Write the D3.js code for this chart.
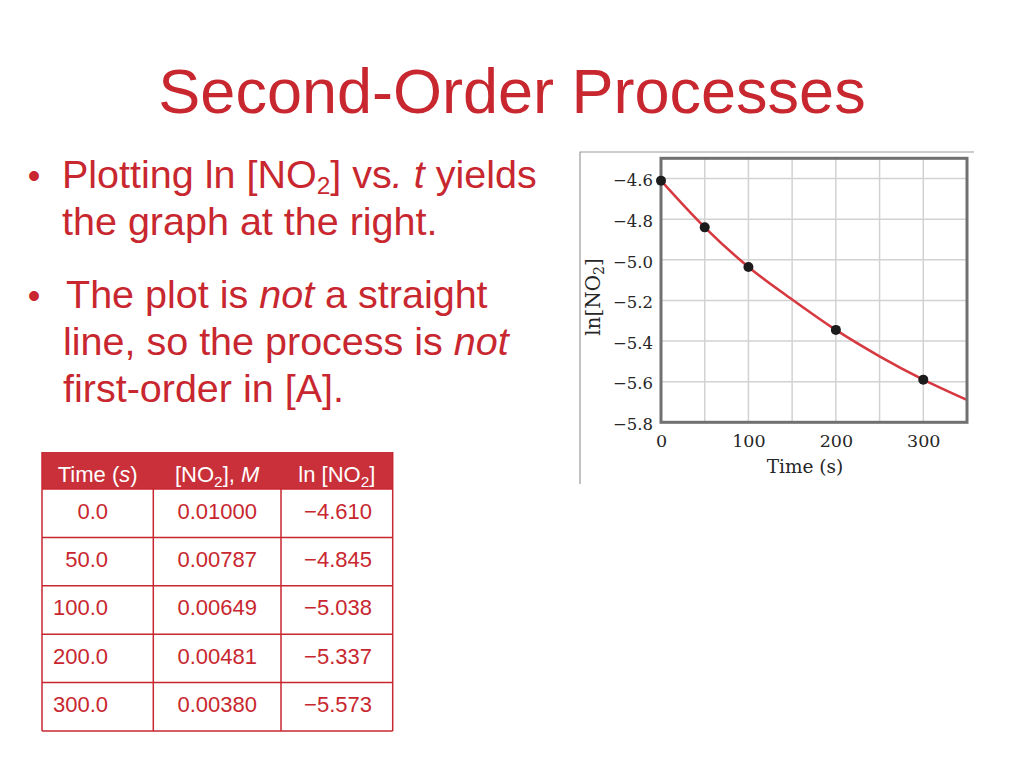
<!DOCTYPE html>
<html>
<head>
<meta charset="utf-8">
<script src="https://cdn.jsdelivr.net/npm/d3@7"></script>
<style>
  html, body { margin: 0; padding: 0; background: #ffffff; }
  svg { display: block; }
</style>
</head>
<body>
<svg id="slide" width="1024" height="768"></svg>
<script>
// ---------------- data ----------------
const tableHeaders = ["Time (s)", "[NO2], M", "ln [NO2]"];
const tableTime = ["0.0", "50.0", "100.0", "200.0", "300.0"];
const tableConc = ["0.01000", "0.00787", "0.00649", "0.00481", "0.00380"];
const tableLn = ["\u22124.610", "\u22124.845", "\u22125.038", "\u22125.337", "\u22125.573"];

// plotted points
const dotTime = [0, 50, 100, 200, 300];
const dotLn = [-4.61, -4.84, -5.035, -5.345, -5.59];

// fitted curve
const fitTime = [0, 50, 100, 150, 200, 250, 300, 350];
const fitLn = [-4.61, -4.84, -5.035, -5.195, -5.345, -5.475, -5.59, -5.69];

const xTickValues = [0, 100, 200, 300];
const xGridValues = [50, 100, 150, 200, 250, 300];
const yTickValues = [-4.6, -4.8, -5.0, -5.2, -5.4, -5.6, -5.8];
const yGridValues = [-4.6, -4.8, -5.0, -5.2, -5.4, -5.6];

// ---------------- styles ----------------
const RED = "#c8272f";
const SANS = "'Liberation Sans', Arial, Helvetica, sans-serif";
const SERIF = "'DejaVu Serif', serif";
const INK = "#262626";

const svg = d3.select("#slide");

// ---------------- title ----------------
svg.append("text")
  .attr("x", 512).attr("y", 113)
  .attr("text-anchor", "middle")
  .attr("font-family", SANS).attr("font-size", 63)
  .attr("fill", RED)
  .text("Second-Order Processes");

// ---------------- bullets ----------------
const bulletSize = 39.5;
function addLine(x, y, parts) {
  const t = svg.append("text")
    .attr("x", x).attr("y", y)
    .attr("font-family", SANS).attr("font-size", bulletSize)
    .attr("fill", RED);
  parts.forEach(p => {
    const ts = t.append("tspan").text(p.t);
    if (p.i) ts.attr("font-style", "italic");
    if (p.sub) ts.attr("font-size", bulletSize * 0.62).attr("dy", 6);
    if (p.up) ts.attr("dy", -6);
  });
  return t;
}
function addBullet(y) {
  svg.append("text").attr("x", 34).attr("y", y)
    .attr("text-anchor", "middle")
    .attr("font-family", SANS).attr("font-size", 36)
    .attr("fill", RED).text("\u2022");
}
addBullet(188);
addLine(62, 188, [{t: "Plotting ln [NO"}, {t: "2", sub: true}, {t: "] vs", up: true}, {t: ". t", i: true}, {t: " yields"}]);
addLine(62, 234.5, [{t: "the graph at the right."}]);
addBullet(308);
addLine(66, 308, [{t: "The plot is "}, {t: "not", i: true}, {t: " a straight"}]);
addLine(63, 355, [{t: "line, so the process is "}, {t: "not", i: true}]);
addLine(63, 401.5, [{t: "first-order in [A]."}]);

// ---------------- table ----------------
const tblLeft = 42, tblTop = 452;
const colEdges = [42, 153.3, 281, 392.7];
const headerH = 37, rowH = 48.4;
const tblBottom = tblTop + headerH + rowH * tableTime.length;
const tfs = 22;

svg.append("rect")
  .attr("x", colEdges[0]).attr("y", tblTop)
  .attr("width", colEdges[3] - colEdges[0]).attr("height", headerH)
  .attr("fill", "#c9303a");

// header texts
const headerParts = [
  [{t: "Time ("}, {t: "s", i: true}, {t: ")"}],
  [{t: "[NO"}, {t: "2", sub: true}, {t: "], ", up: true}, {t: "M", i: true}],
  [{t: "ln [NO"}, {t: "2", sub: true}, {t: "]", up: true}]
];
headerParts.forEach((parts, ci) => {
  const t = svg.append("text")
    .attr("x", (colEdges[ci] + colEdges[ci + 1]) / 2)
    .attr("y", tblTop + 30)
    .attr("text-anchor", "middle")
    .attr("font-family", SANS).attr("font-size", tfs)
    .attr("fill", "#ffffff");
  parts.forEach(p => {
    const ts = t.append("tspan").text(p.t);
    if (p.i) ts.attr("font-style", "italic");
    if (p.sub) ts.attr("font-size", tfs * 0.7).attr("dy", 5);
    if (p.up) ts.attr("dy", -5);
  });
});

// body cells
const rowsG = svg.append("g");
const rows = tableTime.map((t, i) => ({t, c: tableConc[i], l: tableLn[i], i}));
rows.forEach(r => {
  const yb = tblTop + headerH + r.i * rowH + 29.5;
  rowsG.append("text").attr("x", 108).attr("y", yb)
    .attr("text-anchor", "end").attr("font-family", SANS).attr("font-size", tfs)
    .attr("fill", RED).text(r.t);
  rowsG.append("text").attr("x", 257).attr("y", yb)
    .attr("text-anchor", "end").attr("font-family", SANS).attr("font-size", tfs)
    .attr("fill", RED).text(r.c);
  rowsG.append("text").attr("x", 372).attr("y", yb)
    .attr("text-anchor", "end").attr("font-family", SANS).attr("font-size", tfs)
    .attr("fill", RED).text(r.l);
});

// grid lines of table
const tl = svg.append("g").attr("stroke", RED).attr("stroke-width", 1.5).attr("fill", "none");
for (let i = 0; i <= tableTime.length; i++) {
  const yy = tblTop + headerH + i * rowH;
  tl.append("line").attr("x1", colEdges[0]).attr("x2", colEdges[3]).attr("y1", yy).attr("y2", yy);
}
[0, 1, 2, 3].forEach(ci => {
  tl.append("line").attr("x1", colEdges[ci]).attr("x2", colEdges[ci])
    .attr("y1", ci === 0 || ci === 3 ? tblTop : tblTop + headerH).attr("y2", tblBottom);
});

// ---------------- chart ----------------
// outer image border (left and top)
svg.append("path")
  .attr("d", "M580,484 L580,152 L974,152")
  .attr("fill", "none").attr("stroke", "#9a9a9a").attr("stroke-width", 1.2);

const x = d3.scaleLinear().domain([0, 350]).range([661, 967]);
const y = d3.scaleLinear().domain([-5.8, -4.5]).range([422.3, 158.3]);

const chart = svg.append("g");
chart.append("rect")
  .attr("x", x(0)).attr("y", y(-4.5))
  .attr("width", x(350) - x(0)).attr("height", y(-5.8) - y(-4.5))
  .attr("fill", "#ffffff");

// grid
chart.append("g").selectAll("line").data(xGridValues).join("line")
  .attr("x1", d => x(d)).attr("x2", d => x(d))
  .attr("y1", y(-4.5)).attr("y2", y(-5.8))
  .attr("stroke", "#d2d2d2").attr("stroke-width", 1.5);
chart.append("g").selectAll("line").data(yGridValues).join("line")
  .attr("x1", x(0)).attr("x2", x(350))
  .attr("y1", d => y(d)).attr("y2", d => y(d))
  .attr("stroke", "#d2d2d2").attr("stroke-width", 1.5);

// fitted curve
const clipId = "plotclip";
svg.append("clipPath").attr("id", clipId).append("rect")
  .attr("x", x(0)).attr("y", y(-4.5))
  .attr("width", x(350) - x(0)).attr("height", y(-5.8) - y(-4.5));

const fit = fitTime.map((t, i) => [t, fitLn[i]]);
chart.append("path")
  .datum(fit)
  .attr("clip-path", `url(#${clipId})`)
  .attr("fill", "none").attr("stroke", "#d63a40").attr("stroke-width", 2.6)
  .attr("d", d3.line().x(d => x(d[0])).y(d => y(d[1])).curve(d3.curveMonotoneX));

// frame
chart.append("rect")
  .attr("x", x(0)).attr("y", y(-4.5))
  .attr("width", x(350) - x(0)).attr("height", y(-5.8) - y(-4.5))
  .attr("fill", "none").attr("stroke", "#707070").attr("stroke-width", 3);

// points
chart.append("g").selectAll("circle").data(dotTime.map((t, i) => [t, dotLn[i]])).join("circle")
  .attr("cx", d => x(d[0])).attr("cy", d => y(d[1]))
  .attr("r", 5).attr("fill", "#1c1c1c");

// axes
const yAxis = d3.axisLeft(y).tickValues(yTickValues).tickSize(0).tickPadding(8)
  .tickFormat(d3.format(".1f"));
const gy = chart.append("g").attr("transform", `translate(${x(0)},2)`).call(yAxis);
gy.select(".domain").remove();
gy.selectAll("text").attr("font-family", SERIF).attr("font-size", 16.5).attr("fill", INK);

const xAxis = d3.axisBottom(x).tickValues(xTickValues).tickSize(0).tickPadding(12)
  .tickFormat(d3.format("d"));
const gx = chart.append("g").attr("transform", `translate(0,${y(-5.8)})`).call(xAxis);
gx.select(".domain").remove();
gx.selectAll("text").attr("font-family", SERIF).attr("font-size", 17.5).attr("fill", INK);

// axis titles
chart.append("text")
  .attr("x", 805).attr("y", 473)
  .attr("text-anchor", "middle")
  .attr("font-family", SERIF).attr("font-size", 18.5).attr("fill", INK)
  .text("Time (s)");

const yl = chart.append("text")
  .attr("transform", "translate(600,297) rotate(-90)")
  .attr("text-anchor", "middle")
  .attr("font-family", SERIF).attr("font-size", 20).attr("fill", INK);
yl.append("tspan").text("ln[NO");
yl.append("tspan").text("2").attr("font-size", 14).attr("dy", 4);
yl.append("tspan").text("]").attr("dy", -4);
</script>
</body>
</html>
